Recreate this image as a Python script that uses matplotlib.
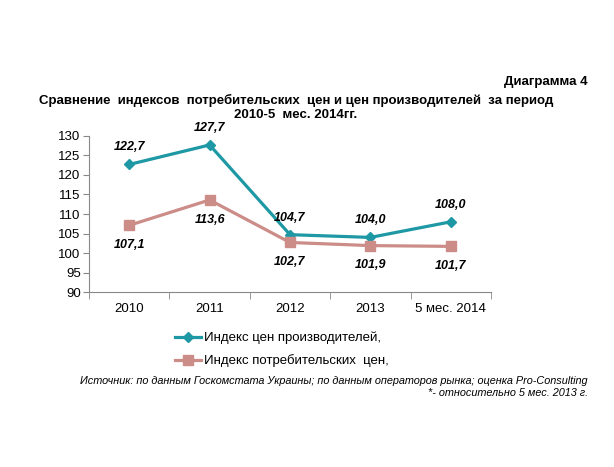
import matplotlib
matplotlib.use("Agg")
import matplotlib.pyplot as plt

categories = ["2010", "2011", "2012", "2013", "5 мес. 2014"]
producer = [122.7, 127.7, 104.7, 104.0, 108.0]
consumer = [107.1, 113.6, 102.7, 101.9, 101.7]
yticks = [90, 95, 100, 105, 110, 115, 120, 125, 130]

plt.rcParams['font.family'] = ['Liberation Sans', 'DejaVu Sans']

fig = plt.figure(figsize=(6.14, 4.67), dpi=100)
ax = fig.add_axes([0.145, 0.3747, 0.6547, 0.3341])

c_prod = '#1E98A4'
c_cons = '#CC8C88'
x = list(range(len(categories)))
ax.plot(x, producer, color=c_prod, lw=2.3, marker='D', ms=5.5, label='Индекс цен производителей,')
ax.plot(x, consumer, color=c_cons, lw=2.3, marker='s', ms=6.5, label='Индекс потребительских  цен,')

for i, v in enumerate(producer):
    ax.annotate(f"{v:.1f}".replace('.', ','), (i, v), xytext=(0, 8), textcoords='offset points',
                ha='center', va='bottom', fontsize=9, fontweight='bold', fontstyle='italic')
for i, v in enumerate(consumer):
    ax.annotate(f"{v:.1f}".replace('.', ','), (i, v), xytext=(0, -10), textcoords='offset points',
                ha='center', va='top', fontsize=9, fontweight='bold', fontstyle='italic')

ax.set_xlim(-0.5, len(categories) - 0.5)
ax.set_ylim(90, 130)
ax.set_yticks(yticks)
ax.set_yticklabels([str(t) for t in yticks], fontsize=9.5)
ax.set_xticks(x)
ax.set_xticklabels(categories, fontsize=9.5)
ax.tick_params(axis='x', length=0, pad=8)
ax.set_xticks([i - 0.5 for i in range(len(categories) + 1)], minor=True)
ax.tick_params(axis='x', which='minor', length=5, color='#888888')
ax.tick_params(axis='y', length=4, color='#888888', pad=2)
for s in ['top', 'right']:
    ax.spines[s].set_visible(False)
for s in ['left', 'bottom']:
    ax.spines[s].set_color('#888888')

fig.text(588/614, 1 - 82/467, "Диаграмма 4", ha='right', va='center', fontsize=9.5, fontweight='bold')
fig.text(296/614, 1 - 100/467, "Сравнение  индексов  потребительских  цен и цен производителей  за период",
         ha='center', va='center', fontsize=9.5, fontweight='bold')
fig.text(296/614, 1 - 115/467, "2010-5  мес. 2014гг.", ha='center', va='center', fontsize=9.5, fontweight='bold')

leg = fig.legend(loc='upper left', bbox_to_anchor=(163/614, 1 - 320/467), frameon=False,
                 fontsize=9.5, handlelength=2.0, handletextpad=0.2, labelspacing=0.75)

fig.text(588/614, 1 - 381/467,
         "Источник: по данным Госкомстата Украины; по данным операторов рынка; оценка Pro-Consulting",
         ha='right', va='center', fontsize=7.8, fontstyle='italic')
fig.text(588/614, 1 - 393/467, "*- относительно 5 мес. 2013 г.", ha='right', va='center',
         fontsize=7.8, fontstyle='italic')

fig.savefig("out.png", dpi=100)
